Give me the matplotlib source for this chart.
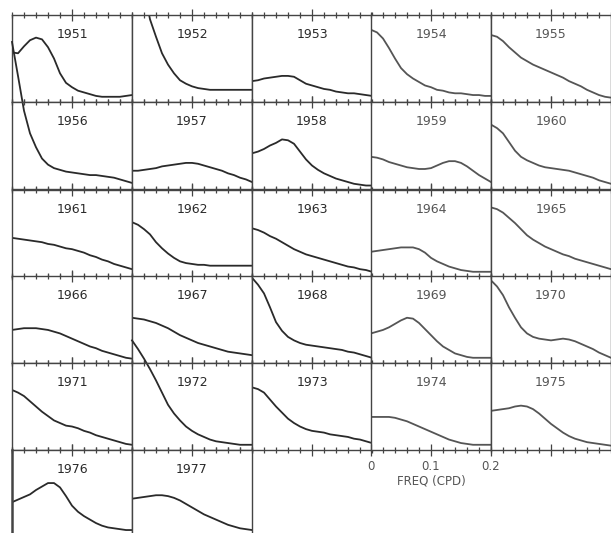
import matplotlib.pyplot as plt
import numpy as np

# frequency grid (cycles per day), same for every panel
freq = [0.00, 0.01, 0.02, 0.03, 0.04, 0.05, 0.06, 0.07, 0.08, 0.09, 0.10,
        0.11, 0.12, 0.13, 0.14, 0.15, 0.16, 0.17, 0.18, 0.19, 0.20]

# spectra, in panel-height units
y1951 = [0.57, 0.56, 0.64, 0.71, 0.74, 0.72, 0.63, 0.50, 0.33, 0.22, 0.17,
         0.13, 0.11, 0.09, 0.07, 0.06, 0.06, 0.06, 0.06, 0.07, 0.08]
y1952 = [1.90, 1.60, 1.30, 0.95, 0.75, 0.56, 0.43, 0.33, 0.25, 0.21, 0.18,
         0.16, 0.15, 0.14, 0.14, 0.14, 0.14, 0.14, 0.14, 0.14, 0.14]
y1953 = [0.24, 0.25, 0.27, 0.28, 0.29, 0.30, 0.30, 0.29, 0.25, 0.21, 0.19,
         0.17, 0.15, 0.14, 0.12, 0.11, 0.10, 0.10, 0.09, 0.08, 0.07]
y1954 = [0.83, 0.80, 0.73, 0.62, 0.50, 0.39, 0.32, 0.27, 0.23, 0.19, 0.17,
         0.14, 0.13, 0.11, 0.10, 0.10, 0.09, 0.08, 0.08, 0.07, 0.07]
y1955 = [0.77, 0.75, 0.70, 0.63, 0.57, 0.51, 0.47, 0.43, 0.40, 0.37, 0.34,
         0.31, 0.28, 0.24, 0.21, 0.18, 0.14, 0.11, 0.08, 0.06, 0.05]
y1956 = [1.69, 1.30, 0.90, 0.64, 0.48, 0.35, 0.28, 0.24, 0.22, 0.20, 0.19,
         0.18, 0.17, 0.16, 0.16, 0.15, 0.14, 0.13, 0.11, 0.09, 0.07]
y1957 = [0.21, 0.21, 0.22, 0.23, 0.24, 0.26, 0.27, 0.28, 0.29, 0.30, 0.30,
         0.29, 0.27, 0.25, 0.23, 0.21, 0.18, 0.16, 0.13, 0.11, 0.08]
y1958 = [0.41, 0.43, 0.46, 0.50, 0.53, 0.57, 0.56, 0.52, 0.43, 0.34, 0.27,
         0.22, 0.18, 0.15, 0.12, 0.10, 0.08, 0.06, 0.05, 0.04, 0.04]
y1959 = [0.37, 0.36, 0.34, 0.31, 0.29, 0.27, 0.25, 0.24, 0.23, 0.23, 0.24,
         0.27, 0.30, 0.32, 0.32, 0.30, 0.26, 0.21, 0.16, 0.12, 0.08]
y1960 = [0.74, 0.70, 0.64, 0.54, 0.44, 0.37, 0.33, 0.30, 0.27, 0.25, 0.24,
         0.23, 0.22, 0.21, 0.19, 0.17, 0.15, 0.13, 0.10, 0.08, 0.06]
y1961 = [0.45, 0.44, 0.43, 0.42, 0.41, 0.40, 0.38, 0.37, 0.35, 0.33, 0.32,
         0.30, 0.28, 0.25, 0.23, 0.20, 0.18, 0.15, 0.13, 0.11, 0.09]
y1962 = [0.63, 0.60, 0.55, 0.49, 0.40, 0.33, 0.27, 0.22, 0.18, 0.16, 0.15,
         0.14, 0.14, 0.13, 0.13, 0.13, 0.13, 0.13, 0.13, 0.13, 0.13]
y1963 = [0.56, 0.54, 0.51, 0.47, 0.44, 0.40, 0.36, 0.32, 0.29, 0.26, 0.24,
         0.22, 0.20, 0.18, 0.16, 0.14, 0.12, 0.11, 0.09, 0.08, 0.06]
y1964 = [0.29, 0.30, 0.31, 0.32, 0.33, 0.34, 0.34, 0.34, 0.32, 0.28, 0.22,
         0.18, 0.15, 0.12, 0.10, 0.08, 0.07, 0.06, 0.06, 0.06, 0.06]
y1965 = [0.80, 0.78, 0.74, 0.68, 0.62, 0.55, 0.48, 0.43, 0.39, 0.35, 0.32,
         0.29, 0.26, 0.24, 0.21, 0.19, 0.17, 0.15, 0.13, 0.11, 0.09]
y1966 = [0.38, 0.39, 0.40, 0.40, 0.40, 0.39, 0.38, 0.36, 0.34, 0.31, 0.28,
         0.25, 0.22, 0.19, 0.17, 0.14, 0.12, 0.10, 0.08, 0.06, 0.05]
y1967 = [0.52, 0.51, 0.50, 0.48, 0.46, 0.43, 0.40, 0.36, 0.32, 0.29, 0.26,
         0.23, 0.21, 0.19, 0.17, 0.15, 0.13, 0.12, 0.11, 0.10, 0.09]
y1968 = [0.98, 0.90, 0.80, 0.64, 0.47, 0.37, 0.30, 0.26, 0.23, 0.21, 0.20,
         0.19, 0.18, 0.17, 0.16, 0.15, 0.13, 0.12, 0.10, 0.08, 0.06]
y1969 = [0.34, 0.36, 0.38, 0.41, 0.45, 0.49, 0.52, 0.51, 0.46, 0.39, 0.32,
         0.25, 0.19, 0.15, 0.11, 0.09, 0.07, 0.06, 0.06, 0.06, 0.06]
y1970 = [0.95, 0.88, 0.78, 0.64, 0.52, 0.41, 0.34, 0.30, 0.28, 0.27, 0.26,
         0.27, 0.28, 0.27, 0.25, 0.22, 0.19, 0.16, 0.12, 0.09, 0.06]
y1971 = [0.69, 0.66, 0.62, 0.56, 0.50, 0.44, 0.39, 0.34, 0.31, 0.28, 0.27,
         0.25, 0.22, 0.20, 0.17, 0.15, 0.13, 0.11, 0.09, 0.07, 0.06]
y1972 = [1.26, 1.16, 1.05, 0.93, 0.80, 0.66, 0.52, 0.42, 0.34, 0.27, 0.22,
         0.18, 0.15, 0.12, 0.10, 0.09, 0.08, 0.07, 0.06, 0.06, 0.06]
y1973 = [0.72, 0.70, 0.66, 0.58, 0.50, 0.43, 0.36, 0.31, 0.27, 0.24, 0.22,
         0.21, 0.20, 0.18, 0.17, 0.16, 0.15, 0.13, 0.12, 0.10, 0.08]
y1974 = [0.38, 0.38, 0.38, 0.38, 0.37, 0.35, 0.33, 0.30, 0.27, 0.24, 0.21,
         0.18, 0.15, 0.12, 0.10, 0.08, 0.07, 0.06, 0.06, 0.06, 0.06]
y1975 = [0.45, 0.46, 0.47, 0.48, 0.50, 0.51, 0.50, 0.47, 0.42, 0.36, 0.30,
         0.25, 0.20, 0.16, 0.13, 0.11, 0.09, 0.08, 0.07, 0.06, 0.05]
y1976 = [0.40, 0.43, 0.46, 0.49, 0.54, 0.58, 0.62, 0.62, 0.57, 0.47, 0.36,
         0.29, 0.24, 0.20, 0.16, 0.13, 0.11, 0.10, 0.09, 0.08, 0.08]
y1977 = [0.44, 0.45, 0.46, 0.47, 0.48, 0.48, 0.47, 0.45, 0.42, 0.38, 0.34,
         0.30, 0.26, 0.23, 0.20, 0.17, 0.14, 0.12, 0.10, 0.09, 0.08]

spectra = {
    1951: y1951, 1952: y1952, 1953: y1953, 1954: y1954, 1955: y1955,
    1956: y1956, 1957: y1957, 1958: y1958, 1959: y1959, 1960: y1960,
    1961: y1961, 1962: y1962, 1963: y1963, 1964: y1964, 1965: y1965,
    1966: y1966, 1967: y1967, 1968: y1968, 1969: y1969, 1970: y1970,
    1971: y1971, 1972: y1972, 1973: y1973, 1974: y1974, 1975: y1975,
    1976: y1976, 1977: y1977,
}
# curves that run up into the panel above in the original
overflow = [1956, 1972]

W, H = 611, 533
fig = plt.figure(figsize=(W / 100, H / 100), dpi=100)

col_left = [12, 132, 252, 371, 491]
row_top = [15, 102, 190, 276, 363, 450]
pw, ph = 120, 87

for i, year in enumerate(spectra):
    r, c = divmod(i, 5)
    x0, y0 = col_left[c], row_top[r]
    ax = fig.add_axes([x0 / W, 1 - (y0 + ph) / H, pw / W, ph / H])
    ink = '#2a2a2a' if c < 3 else '#555555'
    ax.plot(freq, spectra[year], color=ink, lw=1.3, solid_joinstyle='round',
            clip_on=(year not in overflow))
    ax.set_xlim(0, 0.2)
    ax.set_ylim(0, 1)
    ax.set_yticks([])
    ax.text(0.5, 0.78, str(year), transform=ax.transAxes, ha='center',
            va='center', fontsize=9, color=ink)
    for s in ax.spines.values():
        s.set_color('#444444')
        s.set_linewidth(1.0)
    if year == 1976:
        ax.spines['left'].set_linewidth(1.8)
    ax.set_xticks(np.arange(0, 0.201, 0.02), minor=True)
    ax.tick_params(axis='x', which='both', direction='inout', top=True,
                   bottom=(r < 5), colors='#444444', width=0.9)
    ax.tick_params(axis='x', which='minor', length=5)
    ax.tick_params(axis='x', which='major', length=9)
    if year == 1974:
        ax.set_xticks([0, 0.1, 0.2], ['0', '0.1', '0.2'])
        ax.tick_params(axis='x', which='major', labelsize=8.5,
                       labelcolor='#555555', pad=3)
        ax.set_xlabel('FREQ (CPD)', fontsize=8.5, color='#555555', labelpad=1)
    else:
        ax.set_xticks([0.1], [''])

fig.savefig('out.png', dpi=100)
